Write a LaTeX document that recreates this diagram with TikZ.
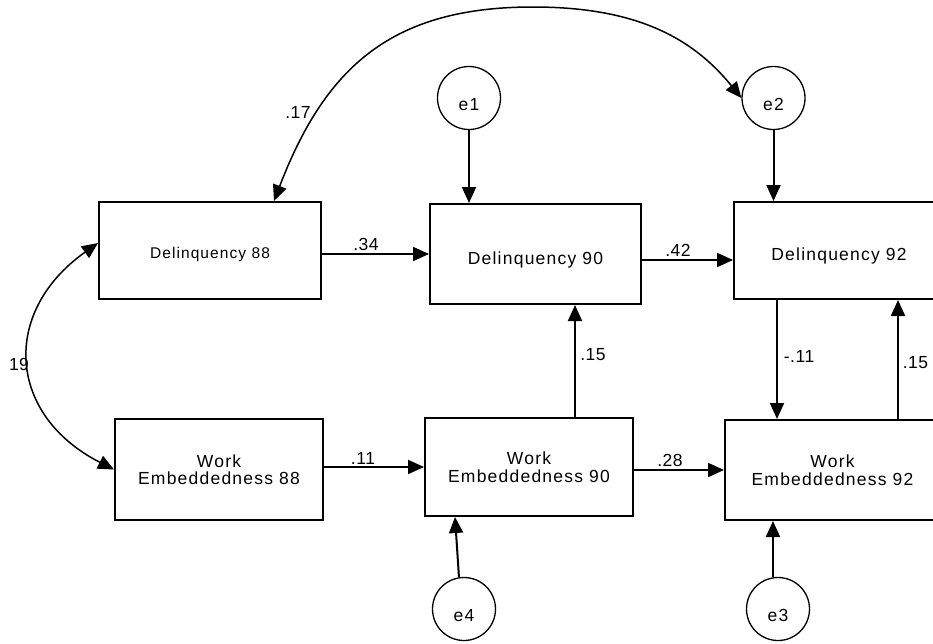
\documentclass[tikz,border=0pt]{standalone}
\usepackage{fontspec}
\setmainfont{Liberation Sans}
\newfontfamily\boxfont{Liberation Sans}[LetterSpace=7]
\newfontfamily\numfont{Liberation Sans}[LetterSpace=3]
\usetikzlibrary{arrows.meta}
\begin{document}
\begin{tikzpicture}[x=1pt,y=-1pt,
  box/.style={draw, line width=2pt, inner sep=0pt},
  dfont/.style={font=\boxfont\fontsize{17.5}{17.5}\selectfont},
  err/.style={circle, draw, line width=1.3pt, minimum size=63pt, inner sep=0pt,
              text height=25pt, text depth=0pt, font=\boxfont\fontsize{17.5}{17.5}\selectfont},
  arr/.style={line width=2pt, -{Triangle[length=16pt,width=14pt]}},
  cov/.style={line width=1.5pt, {Triangle[length=16pt,width=14pt]}-{Triangle[length=16pt,width=14pt]}},
  num/.style={inner sep=0pt, font=\numfont\fontsize{17.5}{17.5}\selectfont}]
\useasboundingbox (0,0) rectangle (933,643);
\clip (0,0) rectangle (933,643);

% observed variables
\node[box, minimum width=222pt, minimum height=97pt, text height=15pt, text depth=0pt,
      font=\boxfont\fontsize{15.5}{15.5}\selectfont] (D88) at (210,250.5) {Delinquency 88};
\node[box, dfont, minimum width=211pt, minimum height=100pt, text height=20pt, text depth=0pt] (D90) at (535.5,254) {Delinquency 90};
\node[box, dfont, minimum width=210pt, minimum height=97pt, text height=19pt, text depth=0pt] (D92) at (839,250.5) {Delinquency 92};
\node[box, dfont, align=center, minimum width=208pt, minimum height=101pt] (WE88) at (219,469.5) {Work\\Embeddedness 88};
\node[box, dfont, align=center, minimum width=208pt, minimum height=98pt] (WE90) at (529,467) {Work\\Embeddedness 90};
\node[box, dfont, align=center, minimum width=215pt, minimum height=100pt] (WE92) at (832.5,470) {Work\\Embeddedness 92};

% error terms
\node[err] (e1) at (469,98) {e1};
\node[err] (e2) at (773.5,98) {e2};
\node[err] (e4) at (464,609) {e4};
\node[err] (e3) at (778,609) {e3};

% error paths
\draw[arr] (e1.south) -- (e1.south |- D90.north);
\draw[arr] (e2.south) -- (e2.south |- D92.north);
\draw[arr] (e4.99) -- ([xshift=31pt]WE90.south west);
\draw[arr] (e3.99) -- (e3.99 |- WE92.south);

% structural paths
\draw[arr] (D88.east |- D90.west) -- (D90.west);
\draw[arr] ([yshift=-6pt]D90.east) -- ([yshift=-6pt]D90.east -| D92.west);
\draw[arr] (WE88.east |- WE90.west) -- (WE90.west);
\draw[arr] (WE90.east |- WE92.west) -- (WE92.west);
\draw[arr] ([xshift=46pt]WE90.north) -- ([xshift=46pt]WE90.north |- D90.south);
\draw[arr] ([xshift=-62pt]D92.south) -- ([xshift=-62pt]D92.south |- WE92.north);
\draw[arr] ([xshift=65.5pt]WE92.north) -- ([xshift=65.5pt]WE92.north |- D92.south);

% covariances
\coordinate (arctop) at (533,7);
\draw[cov] ([xshift=64pt]D88.north) .. controls +(51.9,-135.4) and +(-140,0) .. (arctop)
           .. controls +(100,0) and +(-50.4,-62.2) .. (e2.west);
\draw[cov] ([yshift=7.5pt]D88.west) .. controls +(-97.3,68.9) and +(-106.9,-54.5) .. (WE88.west);

% coefficients
\node[num] (l17) at (298,112) {.17};
\node[num] (l34) at (366,244) {.34};
\node[num] (l42) at (678,250.5) {.42};
\node[num] (l11) at (363,458) {.11};
\node[num] (l28) at (670,460) {.28};
\node[num] (l15a) at (593,354.5) {.15};
\node[num] (lm11) at (799,356.5) {-.11};
\node[num] (l15b) at (915.5,363) {.15};
\node[num] (l19) at (19,364) {19};
\end{tikzpicture}
\end{document}
